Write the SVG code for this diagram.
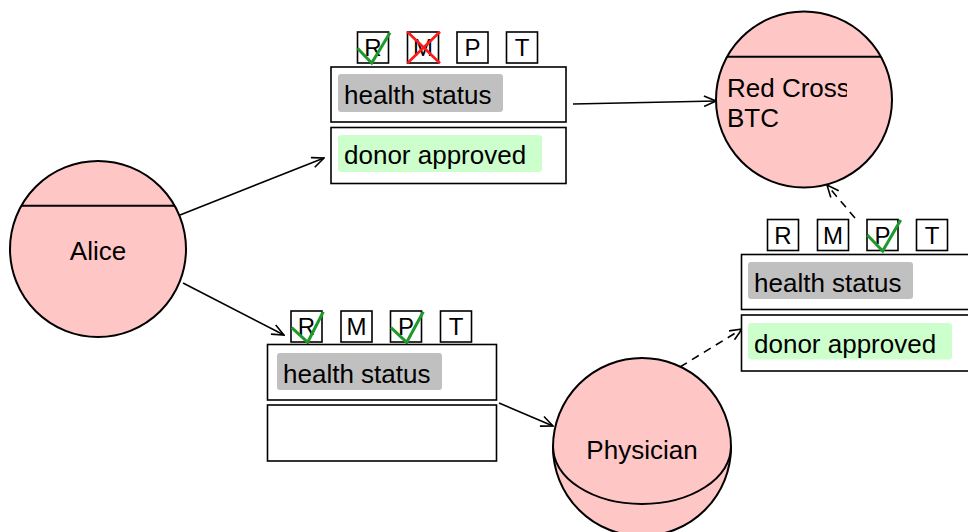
<svg xmlns="http://www.w3.org/2000/svg" width="968" height="532" viewBox="0 0 968 532">
  <style>
    text { font-family: "Liberation Sans", Arial, sans-serif; fill: #000; }
    .lbl { font-size: 26px; }
    .chk { font-size: 24px; text-anchor: middle; }
    .actor { fill: #ffc6c6; stroke: #000; stroke-width: 2; }
    .sep { fill: none; stroke: #000; stroke-width: 2; }
    .box { fill: #fff; stroke: #000; stroke-width: 1.6; }
    .cb { fill: #fff; stroke: #000; stroke-width: 1.6; }
    .tag-gray { fill: #c0c0c0; }
    .tag-green { fill: #ccffcc; }
    .ok { fill: none; stroke: #1f9a2a; stroke-width: 3; stroke-linejoin: miter; }
    .no { fill: none; stroke: #ff1a1a; stroke-width: 2.6; }
    .edge { fill: none; stroke: #000; stroke-width: 1.6; marker-end: url(#open); }
    .dash { stroke-dasharray: 8 6; }
  </style>
  <defs>
    <marker id="open" viewBox="0 0 14 12" refX="13" refY="6" markerWidth="14" markerHeight="12" markerUnits="userSpaceOnUse" orient="auto">
      <path d="M1,0.8 L13,6 L1,11.2" fill="none" stroke="#000" stroke-width="1.6"/>
    </marker>
    <clipPath id="rcClip">
      <rect x="720" y="60" width="127" height="100"/>
    </clipPath>
  </defs>

  <rect width="968" height="532" fill="#fff"/>

  <!-- connectors -->
  <g id="connectors">
    <line class="edge" x1="180" y1="215" x2="324" y2="158"/>
    <line class="edge" x1="183" y1="283" x2="284" y2="335"/>
    <line class="edge" x1="573" y1="104" x2="716" y2="101"/>
    <line class="edge" x1="499" y1="403" x2="553" y2="426"/>
    <line class="edge dash" x1="680" y1="367" x2="742" y2="329"/>
    <line class="edge dash" x1="855" y1="218" x2="827" y2="185"/>
  </g>

  <!-- Alice -->
  <g id="alice">
    <circle class="actor" cx="98" cy="249" r="88"/>
    <line class="sep" x1="21.5" y1="205.7" x2="174.5" y2="205.7"/>
    <text class="lbl" x="98" y="260" text-anchor="middle">Alice</text>
  </g>

  <!-- Red Cross BTC -->
  <g id="redcross">
    <circle class="actor" cx="804" cy="99.5" r="88"/>
    <line class="sep" x1="727" y1="56.7" x2="881" y2="56.7"/>
    <g clip-path="url(#rcClip)">
      <text class="lbl" x="727" y="97">Red Cross</text>
      <text class="lbl" x="727" y="127">BTC</text>
    </g>
  </g>

  <!-- Physician -->
  <g id="physician">
    <circle class="actor" cx="642" cy="447" r="89"/>
    <path class="sep" d="M553,447 A89,57 0 0 0 731,447"/>
    <text class="lbl" x="642" y="459" text-anchor="middle">Physician</text>
  </g>

  <!-- message to Red Cross BTC -->
  <g id="msg-top">
    <rect class="cb" x="357.5" y="32" width="31" height="31"/>
    <text class="chk" x="373" y="56">R</text>
    <rect class="cb" x="407.5" y="32" width="31" height="31"/>
    <text class="chk" x="423" y="56">M</text>
    <rect class="cb" x="457" y="32" width="31" height="31"/>
    <text class="chk" x="472.5" y="56">P</text>
    <rect class="cb" x="506.5" y="32" width="31" height="31"/>
    <text class="chk" x="522" y="56">T</text>
    <path class="ok" d="M357.5,48.3 L371.7,63 L390,32.7"/>
    <path class="no" d="M407.3,31.7 L440,63.3 M440,31.7 L407.3,63.3"/>
    <rect class="box" x="331" y="67" width="235" height="55"/>
    <rect class="tag-gray" x="338" y="74" width="165" height="38" rx="3"/>
    <text class="lbl" x="344" y="104">health status</text>
    <rect class="box" x="331" y="127.5" width="235" height="56"/>
    <rect class="tag-green" x="338" y="135" width="204" height="37" rx="3"/>
    <text class="lbl" x="344" y="164">donor approved</text>
  </g>

  <!-- message to Physician -->
  <g id="msg-low">
    <rect class="cb" x="291" y="311" width="31" height="31"/>
    <text class="chk" x="306.5" y="335">R</text>
    <rect class="cb" x="341" y="311" width="31" height="31"/>
    <text class="chk" x="356.5" y="335">M</text>
    <rect class="cb" x="390.5" y="311" width="31" height="31"/>
    <text class="chk" x="406" y="335">P</text>
    <rect class="cb" x="440.5" y="311" width="31" height="31"/>
    <text class="chk" x="456" y="335">T</text>
    <path class="ok" d="M291.7,327.7 L307.7,342.3 L323.3,311.7"/>
    <path class="ok" d="M391,327.7 L406.7,342.3 L423.3,311.7"/>
    <rect class="box" x="267.5" y="344.5" width="229" height="55.5"/>
    <rect class="tag-gray" x="277" y="353" width="165" height="37" rx="3"/>
    <text class="lbl" x="283" y="383">health status</text>
    <rect class="box" x="267.5" y="405" width="229" height="56"/>
  </g>

  <!-- message from Physician -->
  <g id="msg-right">
    <rect class="cb" x="767.5" y="219.5" width="31" height="31"/>
    <text class="chk" x="783" y="243.5">R</text>
    <rect class="cb" x="817.5" y="219.5" width="31" height="31"/>
    <text class="chk" x="833" y="243.5">M</text>
    <rect class="cb" x="867" y="219.5" width="31" height="31"/>
    <text class="chk" x="882.5" y="243.5">P</text>
    <rect class="cb" x="916.5" y="219.5" width="31" height="31"/>
    <text class="chk" x="932" y="243.5">T</text>
    <path class="ok" d="M867.3,235 L882.7,251 L900.7,220"/>
    <rect class="box" x="741.5" y="254.5" width="235" height="55"/>
    <rect class="tag-gray" x="748" y="262" width="165" height="37" rx="3"/>
    <text class="lbl" x="754" y="292">health status</text>
    <rect class="box" x="741.5" y="315" width="235" height="56"/>
    <rect class="tag-green" x="748" y="323" width="204" height="36.5" rx="3"/>
    <text class="lbl" x="754" y="353">donor approved</text>
  </g>
</svg>
